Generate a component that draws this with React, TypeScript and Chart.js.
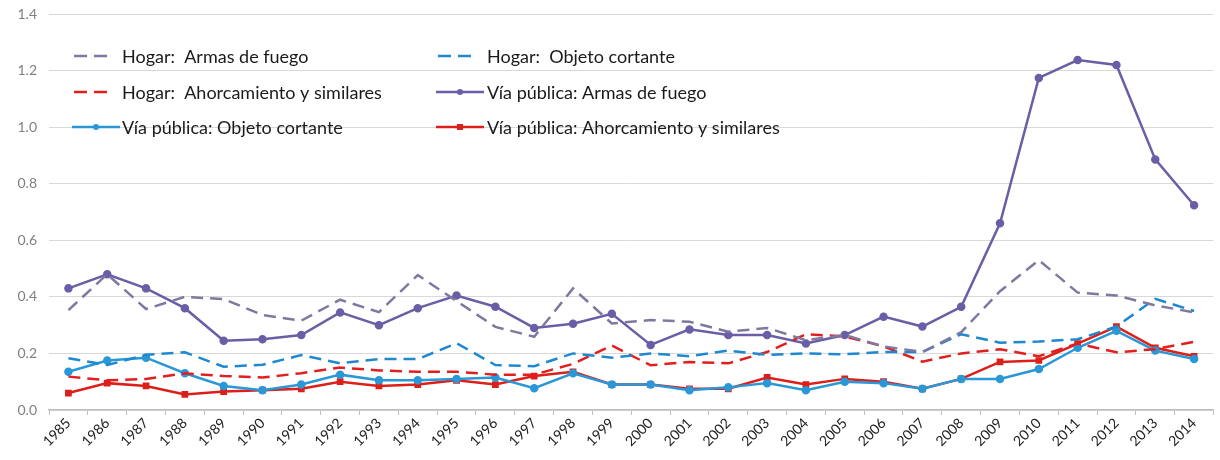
import React, { useEffect, useRef } from "react";
import { Chart, registerables } from "chart.js";

Chart.register(...registerables);

const years = ["1985","1986","1987","1988","1989","1990","1991","1992","1993","1994","1995","1996","1997","1998","1999","2000","2001","2002","2003","2004","2005","2006","2007","2008","2009","2010","2011","2012","2013","2014"];

const hogarArmas = [0.353,0.48,0.357,0.4,0.392,0.336,0.316,0.39,0.346,0.477,0.385,0.294,0.259,0.43,0.306,0.318,0.312,0.277,0.29,0.247,0.265,0.225,0.205,0.275,0.42,0.53,0.415,0.405,0.37,0.345];
const hogarCortante = [0.183,0.159,0.195,0.204,0.153,0.16,0.194,0.165,0.18,0.18,0.236,0.159,0.155,0.2,0.185,0.2,0.19,0.21,0.195,0.2,0.197,0.205,0.205,0.268,0.238,0.242,0.25,0.295,0.393,0.35];
const hogarAhorc = [0.118,0.105,0.11,0.13,0.12,0.115,0.13,0.15,0.14,0.135,0.135,0.125,0.125,0.163,0.228,0.158,0.17,0.165,0.205,0.268,0.26,0.225,0.171,0.2,0.215,0.19,0.235,0.204,0.215,0.241];
const viaArmas = [0.43,0.48,0.43,0.36,0.245,0.25,0.265,0.345,0.3,0.36,0.405,0.365,0.29,0.305,0.34,0.23,0.285,0.265,0.265,0.235,0.265,0.33,0.295,0.365,0.66,1.174,1.237,1.22,0.886,0.724];
const viaCortante = [0.135,0.175,0.185,0.13,0.085,0.07,0.09,0.125,0.105,0.105,0.11,0.115,0.077,0.13,0.09,0.09,0.07,0.08,0.095,0.07,0.1,0.095,0.075,0.11,0.11,0.145,0.22,0.28,0.21,0.18];
const viaAhorc = [0.06,0.095,0.085,0.055,0.065,0.07,0.075,0.1,0.085,0.09,0.105,0.09,0.12,0.135,0.09,0.09,0.075,0.075,0.115,0.09,0.11,0.1,0.075,0.11,0.17,0.175,0.235,0.295,0.22,0.19];

const yTicks = [0, 0.2, 0.4, 0.6, 0.8, 1.0, 1.2, 1.4];

const labels = [
  "Hogar:  Armas de fuego",
  "Hogar:  Objeto cortante",
  "Hogar:  Ahorcamiento y similares",
  "Vía pública: Armas de fuego",
  "Vía pública: Objeto cortante",
  "Vía pública: Ahorcamiento y similares",
];

const colors = ["#80789e", "#1e88d0", "#e21f1f", "#6a5ea6", "#2a98d6", "#dd1f1a"];
const DASH = [12, 7];
const FONT = "Lato, 'Open Sans', sans-serif";

const legendPlugin = {
  id: "customLegend",
  afterDraw(chart: any) {
    const ctx = chart.ctx;
    const ds = chart.data.datasets;
    const cols = [{ sx: 74, tx: 122 }, { sx: 438, tx: 487 }];
    const rows = [56, 92, 127];
    ctx.save();
    ctx.font = `18px ${FONT}`;
    ctx.textBaseline = "middle";
    ds.forEach((d: any, i: number) => {
      const c = cols[i % 2];
      const y = rows[Math.floor(i / 2)];
      ctx.strokeStyle = d.borderColor;
      ctx.lineWidth = 2.5;
      if (d.borderDash && d.borderDash.length) {
        ctx.setLineDash([13, 7]);
        ctx.beginPath();
        ctx.moveTo(c.sx, y);
        ctx.lineTo(c.sx + 33, y);
        ctx.stroke();
        ctx.setLineDash([]);
      } else {
        ctx.beginPath();
        ctx.moveTo(c.sx - 2, y);
        ctx.lineTo(c.sx + 46, y);
        ctx.stroke();
        ctx.fillStyle = d.pointBackgroundColor;
        ctx.beginPath();
        if (d.pointStyle === "rect") {
          ctx.rect(c.sx + 19, y - 3, 6, 6);
        } else {
          ctx.arc(c.sx + 22, y, 3, 0, Math.PI * 2);
        }
        ctx.fill();
      }
      ctx.fillStyle = "#1a1a1a";
      ctx.fillText(labels[i], c.tx, y + 1);
    });
    ctx.restore();
  },
};

export default function App() {
  const ref = useRef<HTMLCanvasElement | null>(null);

  useEffect(() => {
    document.body.style.margin = "0";
    const canvas = ref.current;
    if (!canvas) return;
    const mk = (i: number, data: number[], dashed: boolean, pointStyle: string) => ({
      label: labels[i],
      data,
      borderColor: colors[i],
      backgroundColor: colors[i],
      pointBackgroundColor: colors[i],
      pointBorderColor: colors[i],
      borderWidth: 2.5,
      borderDash: dashed ? DASH : [],
      pointRadius: dashed ? 0 : 3,
      pointStyle,
      tension: 0,
      fill: false,
    });
    const chart = new Chart(canvas, {
      type: "line",
      data: {
        labels: years,
        datasets: [
          mk(0, hogarArmas, true, "circle"),
          mk(1, hogarCortante, true, "circle"),
          mk(2, hogarAhorc, true, "circle"),
          mk(3, viaArmas, false, "circle"),
          mk(4, viaCortante, false, "circle"),
          mk(5, viaAhorc, false, "rect"),
        ],
      },
      options: {
        responsive: false,
        animation: false,
        events: [],
        layout: { padding: { top: 14, right: 2, left: 0, bottom: 0 } },
        plugins: { legend: { display: false }, tooltip: { enabled: false } },
        scales: {
          x: {
            offset: true,
            grid: { display: true, drawOnChartArea: false, offset: true, tickLength: 5, color: "#bfbfbf" },
            border: { display: true, color: "#bfbfbf", width: 1.5 },
            ticks: {
              maxRotation: 45,
              minRotation: 45,
              autoSkip: false,
              color: "#222",
              padding: 0,
              font: { family: FONT, size: 14 },
            },
            afterFit(scale: any) {
              scale.height = 50;
              scale.paddingLeft = 0;
              scale.paddingRight = 0;
            },
          },
          y: {
            min: 0,
            max: 1.4,
            afterBuildTicks(scale: any) {
              scale.ticks = yTicks.map((v) => ({ value: v }));
            },
            grid: { color: "#d9d9d9", lineWidth: 1, drawTicks: false },
            border: { display: false },
            ticks: {
              color: "#808080",
              padding: 12,
              font: { family: FONT, size: 14 },
              callback: (v: any) => Number(v).toFixed(1),
            },
            afterFit(scale: any) {
              scale.width = 49;
              scale.paddingTop = 0;
              scale.paddingBottom = 0;
            },
          },
        },
      },
      plugins: [legendPlugin],
    } as any);
    return () => chart.destroy();
  }, []);

  return (
    <div style={{ width: 1220, height: 460, background: "#fff" }}>
      <canvas ref={ref} width={1220} height={460} style={{ display: "block" }} />
    </div>
  );
}
